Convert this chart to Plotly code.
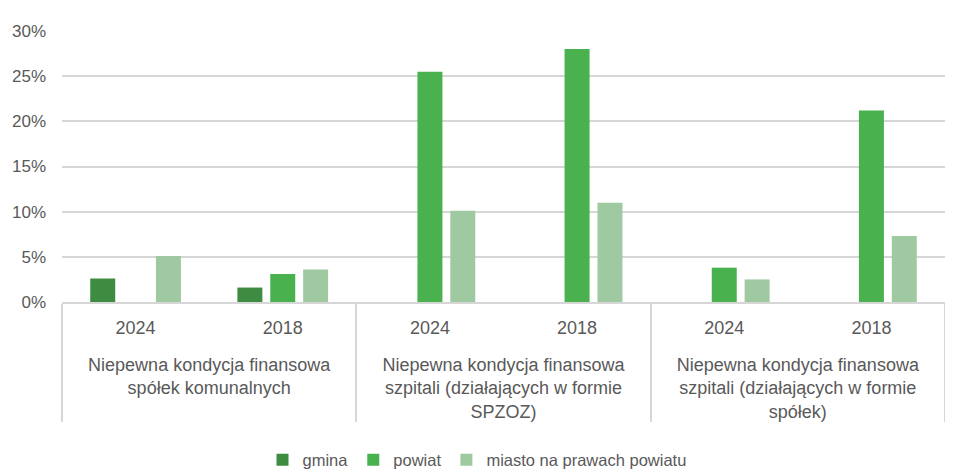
import plotly.graph_objects as go

# categories
groups = [
    "<br>Niepewna kondycja finansowa<br>spółek komunalnych",
    "<br>Niepewna kondycja finansowa<br>szpitali (działających w formie<br>SPZOZ)",
    "<br>Niepewna kondycja finansowa<br>szpitali (działających w formie<br>spółek)",
]
years = ["2024", "2018"]

# values in %, order: (group1 2024, group1 2018, group2 2024, ...)
gmina = [2.6, 1.6, None, None, None, None]
powiat = [None, 3.1, 25.5, 28.0, 3.8, 21.2]
miasto = [5.1, 3.6, 10.1, 11.0, 2.5, 7.3]

x_outer = [g for g in groups for _ in years]
x_inner = [y for _ in groups for y in years]

series = [
    ("gmina", gmina, "#3e8c41"),
    ("powiat", powiat, "#49b24e"),
    ("miasto na prawach powiatu", miasto, "#9ec9a1"),
]

fig = go.Figure()
for name, vals, col in series:
    fig.add_trace(go.Bar(
        name=name,
        x=[x_outer, x_inner],
        y=[v / 100 if v is not None else None for v in vals],
        marker_color=col,
        marker_line_width=0,
    ))

# page body has an 8px margin, so the figure is 8px smaller than the window
fig.update_layout(
    width=945, height=467,
    margin=dict(l=54, r=8, t=23, b=173, autoexpand=False),
    paper_bgcolor="white", plot_bgcolor="white",
    barmode="group", bargap=0.33, bargroupgap=0.24,
    font=dict(family="Liberation Sans", size=16, color="#595959"),
    legend=dict(orientation="h", x=0.47, xanchor="center", y=-0.583, yanchor="middle",
                font=dict(size=16.5), itemwidth=30, traceorder="normal"),
    showlegend=True,
)
fig.update_yaxes(range=[0, 0.30], dtick=0.05, tickformat=".0%", automargin=False,
                 showgrid=True, gridcolor="#d6d6d6", gridwidth=1.5,
                 zeroline=False, ticks="", ticklabelstandoff=15,
                 tickfont=dict(size=17))
fig.update_xaxes(type="multicategory", automargin=False,
                 showline=True, linecolor="#d6d6d6", linewidth=1.5,
                 showdividers=True, dividercolor="#d6d6d6", dividerwidth=1.5,
                 ticklabelstandoff=9,
                 tickfont=dict(family="Liberation Sans", size=18, color="#595959"))

fig.write_html("out.html")
